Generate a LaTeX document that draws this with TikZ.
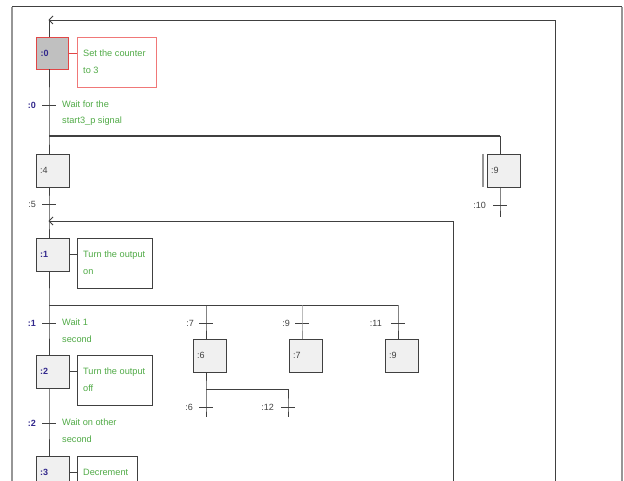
\documentclass[tikz,border=0pt]{standalone}
\usepackage{fontspec}
\setmainfont{Liberation Sans}
\definecolor{ln}{RGB}{64,64,64}
\definecolor{lnl}{RGB}{150,150,150}
\definecolor{stepfill}{RGB}{240,240,240}
\definecolor{initfill}{RGB}{192,192,192}
\definecolor{redb}{RGB}{225,70,70}
\definecolor{redl}{RGB}{240,120,120}
\definecolor{grn}{RGB}{80,170,70}
\definecolor{blu}{RGB}{50,40,140}
\tikzset{
  wire/.style={draw=ln, line width=0.8pt},
  stepbox/.style={draw=ln, fill=stepfill, line width=0.9pt, minimum width=33pt, minimum height=33pt, inner sep=0pt, outer sep=0pt},
  initbox/.style={draw=redb, fill=initfill, line width=1.8pt, minimum width=32pt, minimum height=32pt, inner sep=0pt, outer sep=0pt},
  actbox/.style={draw=ln, line width=0.9pt, minimum height=50pt, inner sep=0pt, outer sep=0pt},
  redact/.style={draw=redl, line width=0.9pt, minimum height=50pt, inner sep=0pt, outer sep=0pt},
  acttxt/.style={anchor=west, inner sep=0pt, text=grn, font=\fontsize{9.2}{11}\selectfont, text height=7pt, text depth=2pt},
  slbl/.style={anchor=west, inner sep=0pt, text=ln, font=\fontsize{9}{11}\selectfont},
  slblb/.style={anchor=west, inner sep=0pt, text=blu, font=\fontsize{9}{11}\selectfont\bfseries},
  tlbl/.style={anchor=east, inner sep=0pt, text=ln, font=\fontsize{9}{11}\selectfont},
  tlblb/.style={anchor=east, inner sep=0pt, text=blu, font=\fontsize{9}{11}\selectfont\bfseries},
}
\begin{document}
\begin{tikzpicture}[x=1pt,y=-1pt]
\useasboundingbox (0,0) rectangle (624,481);
\clip (0,0) rectangle (624,481);
% frame
\draw[draw=ln, line width=1pt] (12,7) -- (622,7);
\draw[draw=lnl, line width=1.6pt] (12,7) -- (12,481);
\draw[draw=lnl, line width=2pt] (622,7) -- (622,481);

% steps
\node[initbox] (s0) at (52.5,53.5) {};
\node[stepbox] (s4) at (52.5,170.5) {};
\node[stepbox] (s9r) at (503.5,170.5) {};
\node[stepbox] (s1) at (52.5,254.5) {};
\node[stepbox] (s2) at (52.5,371.5) {};
\node[stepbox] (s3) at (52.5,472.5) {};
\node[stepbox] (s6) at (209.5,355.5) {};
\node[stepbox] (s7) at (305.5,355.5) {};
\node[stepbox] (s9) at (401.5,355.5) {};

\node[slblb] at ([xshift=4pt]s0.west) {:0};
\node[slbl] at ([xshift=4pt]s4.west) {:4};
\node[slbl] at ([xshift=4pt]s9r.west) {:9};
\node[slblb] at ([xshift=4pt]s1.west) {:1};
\node[slblb] at ([xshift=4pt]s2.west) {:2};
\node[slblb] at ([xshift=4pt]s3.west) {:3};
\node[slbl] at ([xshift=4pt]s6.west) {:6};
\node[slbl] at ([xshift=4pt]s7.west) {:7};
\node[slbl] at ([xshift=4pt]s9.west) {:9};

% action boxes
\node[redact, minimum width=79pt] (a0) at (116.5,62) {};
\node[actbox, minimum width=75pt] (a1) at (114.5,263) {};
\node[actbox, minimum width=75pt] (a2) at (114.5,380) {};
\node[actbox, minimum width=60pt] (a3) at (107,481) {};
\node[acttxt] at (83,54) {Set the counter};
\node[acttxt] at (83,71) {to 3};
\node[acttxt] at (83,255) {Turn the output};
\node[acttxt] at (83,272) {on};
\node[acttxt] at (83,372) {Turn the output};
\node[acttxt] at (83,389) {off};
\node[acttxt] at (83,473) {Decrement};
\draw[draw=redb, line width=0.9pt] (s0.east) -- (s0.east -| a0.west);
\draw[wire] (s1.east) -- (s1.east -| a1.west);
\draw[wire] (s2.east) -- (s2.east -| a2.west);
\draw[wire] (s3.east) -- (s3.east -| a3.west);

% transitions
\coordinate (t0) at (49,105);
\coordinate (t5) at (49,204);
\coordinate (t1) at (49,323);
\coordinate (t2) at (49,423);
\coordinate (t7) at (206,323);
\coordinate (t9) at (302,323);
\coordinate (t11) at (398,323);
\coordinate (t6) at (206,407);
\coordinate (t12) at (288,407);
\coordinate (t10) at (500,205);
\foreach \t in {t0,t5,t1,t2,t7,t9,t11,t6,t12,t10}
  \draw[wire] ([xshift=-7pt]\t) -- ([xshift=7pt]\t);
\node[tlblb] at ([xshift=-13pt]t0) {:0};
\node[tlbl] at ([xshift=-13pt]t5) {:5};
\node[tlblb] at ([xshift=-13pt]t1) {:1};
\node[tlblb] at ([xshift=-13pt]t2) {:2};
\node[tlbl] at ([xshift=-12pt]t7) {:7};
\node[tlbl] at ([xshift=-12pt]t9) {:9};
\node[tlbl] at ([xshift=-16pt]t11) {:11};
\node[tlbl] at ([xshift=-13pt]t6) {:6};
\node[tlbl] at ([xshift=-14pt]t12) {:12};
\node[tlbl] at ([xshift=-14pt]t10) {:10};
\node[acttxt] at (62,105) {Wait for the};
\node[acttxt] at (62,121) {start3\_p signal};
\node[acttxt] at (62,323) {Wait 1};
\node[acttxt] at (62,340) {second};
\node[acttxt] at (62,423) {Wait on other};
\node[acttxt] at (62,440) {second};

% junction coordinates
\coordinate (j0) at (49,20);
\coordinate (d0) at (49,136);
\coordinate (j1) at (49,221);
\coordinate (d1) at (49,305);
\coordinate (d6) at (206,389);
\coordinate (dr) at (500,136);
\coordinate (b7) at (206,305);
\coordinate (b9) at (302,305);
\coordinate (b11) at (398,305);
\coordinate (b12) at (288,389);

% main column
\draw[wire] (j0) -- (j0 |- s0.north);
\draw[wire] (t0 |- s0.south) -- (t0) -- (d0) -- (d0 |- s4.north);
\draw[draw=ln, line width=1.8pt] (d0) -- (dr);
\draw[wire] (dr) -- (dr |- s9r.north);
\draw[draw=lnl, line width=1.6pt] ([xshift=-4pt]s9r.north west) -- ([xshift=-4pt]s9r.south west);
\draw[wire] (t10 |- s9r.south) -- (t10) -- ++(0,12);
\draw[wire] (t5 |- s4.south) -- (t5) -- (j1) -- (j1 |- s1.north);
\draw[wire] (d1 |- s1.south) -- (d1) -- (t1) -- (t1 |- s2.north);
\draw[wire] (d1) -- (b11);
\draw[wire] (b7) -- (t7) -- (t7 |- s6.north);
\draw[draw=lnl, line width=0.9pt] (b9) -- (t9) -- (t9 |- s7.north);
\draw[wire] (b11) -- (t11) -- (t11 |- s9.north);
\draw[wire] (d6 |- s6.south) -- (d6) -- (t6) -- ++(0,10);
\draw[wire] (d6) -- (b12) -- (t12) -- ++(0,10);
\draw[wire] (t2 |- s2.south) -- (t2) -- (t2 |- s3.north);

% loops
\draw[wire] (555,481) -- (555,20) -- (j0);
\draw[wire] (j0) -- ++(4,-4) (j0) -- ++(4,4);
\draw[wire] (453,481) -- (453,221) -- (j1);
\draw[wire] (j1) -- ++(4,-4) (j1) -- ++(4,4);
\end{tikzpicture}
\end{document}
